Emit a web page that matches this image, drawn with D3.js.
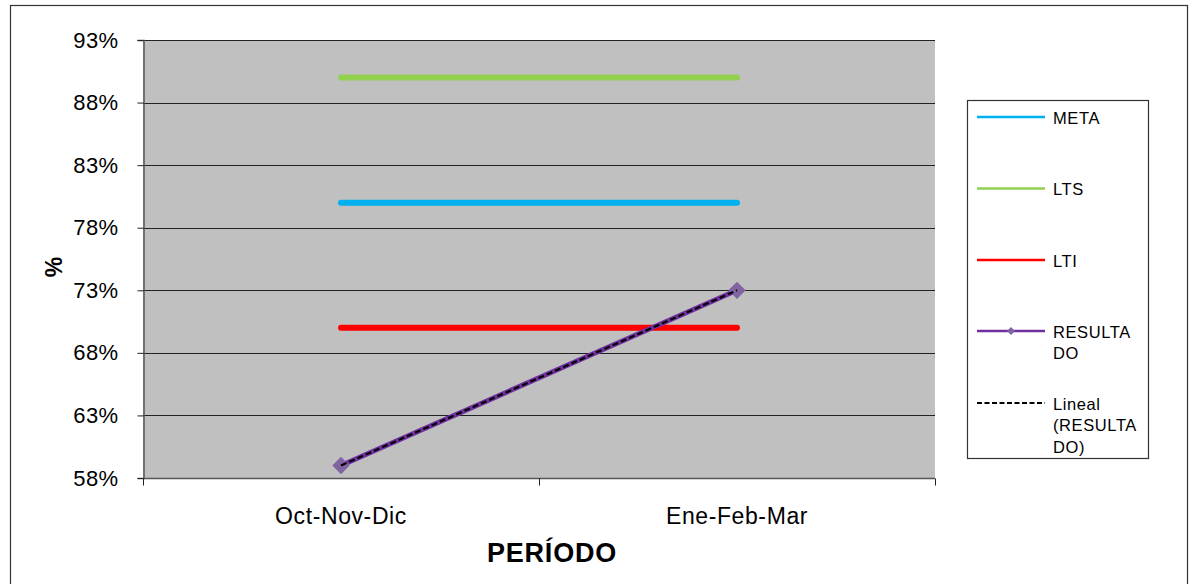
<!DOCTYPE html>
<html>
<head>
<meta charset="utf-8">
<script src="https://cdn.jsdelivr.net/npm/d3@7"></script>
<style>
  html, body { margin: 0; padding: 0; background: #fff; }
  svg { display: block; font-family: "Liberation Sans", Arial, sans-serif; }
</style>
</head>
<body>
<svg id="chart" width="1191" height="584"></svg>
<script>
// Periods on the x axis
const categories = ["Oct-Nov-Dic", "Ene-Feb-Mar"];
// Series values (percent)
const meta = [80, 80];
const lts = [90, 90];
const lti = [70, 70];
const resultado = [59, 73];
// Y axis ticks
const yTicks = [58, 63, 68, 73, 78, 83, 88, 93];

const svg = d3.select("#chart");
const plot = { left: 143, top: 40, right: 935, bottom: 478 };

// Outer frame
svg.append("rect")
  .attr("x", 10.5).attr("y", 5.5)
  .attr("width", 1177).attr("height", 600)
  .attr("fill", "#fff").attr("stroke", "#333").attr("stroke-width", 1.2);

const x = d3.scaleBand().domain(categories).range([plot.left, plot.right]);
const y = d3.scaleLinear().domain([58, 93]).range([plot.bottom, plot.top]);
const cx = d => x(d) + x.bandwidth() / 2;

// Plot area
svg.append("rect")
  .attr("x", plot.left).attr("y", plot.top)
  .attr("width", plot.right - plot.left).attr("height", plot.bottom - plot.top)
  .attr("fill", "#c0c0c0");

// Horizontal gridlines
svg.append("g").selectAll("line").data(yTicks).join("line")
  .attr("x1", plot.left).attr("x2", plot.right)
  .attr("y1", d => Math.round(y(d)) + 0.5).attr("y2", d => Math.round(y(d)) + 0.5)
  .attr("stroke", "#222").attr("stroke-width", 1);

// Y axis
const yAxis = svg.append("g")
  .attr("transform", `translate(${plot.left + 0.5},0)`)
  .call(d3.axisLeft(y).tickValues(yTicks).tickFormat(d => d + "%").tickSize(6).tickPadding(19));
yAxis.select(".domain").attr("stroke", "#555").attr("stroke-width", 1.5);
yAxis.selectAll(".tick line").attr("stroke", "#222");
yAxis.selectAll("text").attr("font-size", 22).attr("fill", "#000")
  .attr("letter-spacing", 0.4)
  .attr("font-family", "Liberation Sans, Arial, sans-serif");

// X axis with boundary ticks between categories
const xAxisG = svg.append("g").attr("transform", `translate(0,${plot.bottom + 0.5})`);
xAxisG.append("line")
  .attr("x1", plot.left).attr("x2", plot.right)
  .attr("stroke", "#555").attr("stroke-width", 1.5);
const bounds = [plot.left, ...categories.map(c => x(c) + x.bandwidth())];
xAxisG.selectAll("line.tk").data(bounds).join("line")
  .attr("class", "tk")
  .attr("x1", d => Math.round(d) + 0.5).attr("x2", d => Math.round(d) + 0.5)
  .attr("y1", 0).attr("y2", 7)
  .attr("stroke", "#222");
xAxisG.selectAll("text").data(categories).join("text")
  .attr("x", d => cx(d)).attr("y", 45)
  .attr("text-anchor", "middle").attr("font-size", 23).attr("fill", "#000")
  .attr("letter-spacing", 0.6)
  .text(d => d);

// Axis titles
svg.append("text")
  .attr("x", 552).attr("y", 562)
  .attr("text-anchor", "middle").attr("font-size", 27).attr("font-weight", "bold")
  .attr("letter-spacing", 0.8)
  .text("PERÍODO");
svg.append("text")
  .attr("transform", `translate(62,${267}) rotate(-90)`)
  .attr("text-anchor", "middle").attr("font-size", 23).attr("font-weight", "bold")
  .text("%");

const line = d3.line().x((d, i) => cx(categories[i])).y(d => y(d));

// Reference lines
const refs = [
  { name: "LTS", data: lts, color: "#92d050" },
  { name: "META", data: meta, color: "#00b0f0" },
  { name: "LTI", data: lti, color: "#ff0000" }
];
svg.append("g").selectAll("path").data(refs).join("path")
  .attr("d", d => line(d.data))
  .attr("fill", "none").attr("stroke", d => d.color)
  .attr("stroke-width", 6).attr("stroke-linecap", "round");

// Result series
svg.append("path")
  .attr("d", line(resultado))
  .attr("fill", "none").attr("stroke", "#7030a0").attr("stroke-width", 5);
svg.append("g").selectAll("path").data(resultado).join("path")
  .attr("d", d3.symbol(d3.symbolSquare, 150))
  .attr("transform", (d, i) => `translate(${cx(categories[i])},${y(d)}) rotate(45)`)
  .attr("fill", "#8064a2");

// Linear trend of the result series (least squares over 1..n)
const xs = resultado.map((d, i) => i + 1);
const mx = d3.mean(xs), my = d3.mean(resultado);
const slope = d3.sum(xs.map((v, i) => (v - mx) * (resultado[i] - my))) / d3.sum(xs.map(v => (v - mx) ** 2));
const icpt = my - slope * mx;
const trend = xs.map(v => icpt + slope * v);
svg.append("path")
  .attr("d", line(trend))
  .attr("fill", "none").attr("stroke", "#000").attr("stroke-width", 2.2)
  .attr("stroke-dasharray", "6,3");

// Legend
const lg = svg.append("g");
lg.append("rect")
  .attr("x", 967.5).attr("y", 100.5).attr("width", 181).attr("height", 358)
  .attr("fill", "#fff").attr("stroke", "#333").attr("stroke-width", 1.2);
const legendItems = [
  { lines: ["META"], color: "#00b0f0", y: 117 },
  { lines: ["LTS"], color: "#92d050", y: 188.5 },
  { lines: ["LTI"], color: "#ff0000", y: 260 },
  { lines: ["RESULTA", "DO"], color: "#7030a0", y: 331, marker: true },
  { lines: ["Lineal", "(RESULTA", "DO)"], color: "#000", y: 403, dash: true }
];
legendItems.forEach(it => {
  lg.append("line")
    .attr("x1", 977).attr("x2", 1045).attr("y1", it.y).attr("y2", it.y)
    .attr("stroke", it.color).attr("stroke-width", it.dash ? 2 : 2.5)
    .attr("stroke-dasharray", it.dash ? "5,2.5" : null);
  if (it.marker) {
    lg.append("path")
      .attr("d", d3.symbol(d3.symbolSquare, 32))
      .attr("transform", `translate(1011,${it.y}) rotate(45)`)
      .attr("fill", "#8064a2");
  }
  it.lines.forEach((t, k) => {
    lg.append("text")
      .attr("x", 1053).attr("y", it.y + 6.5 + k * 21.7)
      .attr("font-size", 16.5).attr("fill", "#000")
      .attr("letter-spacing", 0.6)
      .text(t);
  });
});
</script>
</body>
</html>
